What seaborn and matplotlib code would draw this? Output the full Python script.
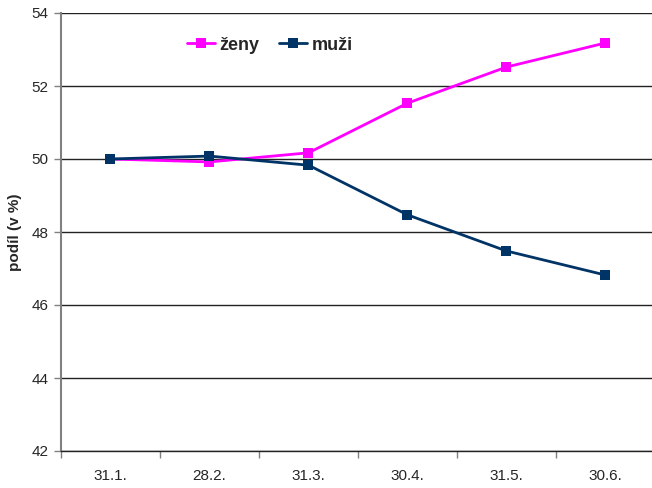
import numpy as np
import pandas as pd
import seaborn as sns
import matplotlib.pyplot as plt
from matplotlib.ticker import FixedLocator

# data
dates = ['31.1.', '28.2.', '31.3.', '30.4.', '31.5.', '30.6.']
zeny = [50.0, 49.92, 50.17, 51.53, 52.52, 53.18]
muzi = [50.0, 50.08, 49.83, 48.47, 47.48, 46.82]

df = pd.DataFrame({
    'x': list(range(len(dates))) * 2,
    'podil': zeny + muzi,
    'skupina': ['ženy'] * len(dates) + ['muži'] * len(dates),
})

sns.set_style('white')
plt.rcParams['font.family'] = ['Liberation Sans', 'DejaVu Sans']

fig = plt.figure(figsize=(6.52, 4.88), dpi=100)
ax = fig.add_axes([61 / 652, 1 - 451 / 488, 594 / 652, 438 / 488])

sns.lineplot(data=df, x='x', y='podil', hue='skupina',
             palette={'ženy': '#ff00ff', 'muži': '#003366'},
             style='skupina', markers={'ženy': 's', 'muži': 's'}, dashes=False,
             linewidth=2.0, markersize=7.5, markeredgewidth=0, ax=ax)

ax.set_xlim(-0.5, len(dates) - 0.5)
ax.set_ylim(42, 54)
ax.set_yticks(np.arange(42, 55, 2))
ax.set_xticks(range(len(dates)))
ax.set_xticklabels(dates, fontsize=11)
ax.xaxis.set_minor_locator(FixedLocator(np.arange(-0.5, len(dates), 1)))
ax.tick_params(axis='x', which='major', length=0, pad=13)
ax.tick_params(axis='x', which='minor', length=5, color='#808080', width=1, direction='out', bottom=True)
ax.tick_params(axis='y', length=5, color='#808080', width=1, direction='out', left=True, labelsize=11, pad=4)

ax.yaxis.grid(True, color='#222222', linewidth=1.0)
ax.xaxis.grid(False)
ax.set_axisbelow(True)

ax.set_xlabel('')
ax.set_ylabel('podíl (v %)', fontsize=11, fontweight='bold', labelpad=7)

for s in ['top', 'right']:
    ax.spines[s].set_visible(False)
ax.spines['left'].set_color('#808080')
ax.spines['left'].set_linewidth(1.5)
ax.spines['bottom'].set_color('#222222')
ax.spines['bottom'].set_linewidth(1.0)

h, l = ax.get_legend_handles_labels()
ax.legend(h, l, ncol=2, frameon=False, loc='center left',
          bbox_to_anchor=((187 - 61) / 594, (451 - 45) / 438),
          prop={'weight': 'bold', 'size': 13}, handlelength=1.55,
          handletextpad=0.25, columnspacing=1.1, borderpad=0, borderaxespad=0)

fig.savefig('out.png', dpi=100)
